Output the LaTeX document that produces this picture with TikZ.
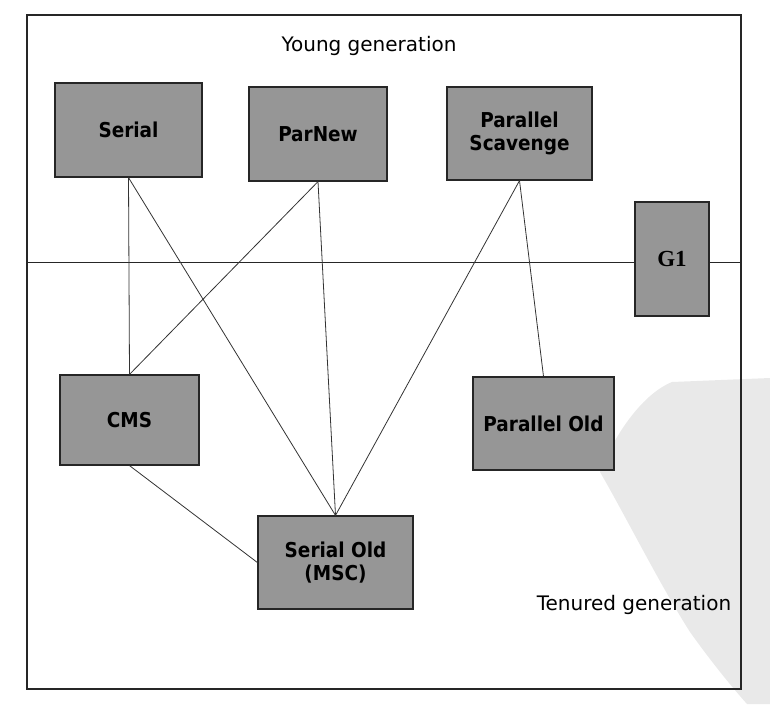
\documentclass[tikz,border=0pt]{standalone}
\usepackage{fontspec}
\setmainfont{DejaVu Sans}
\newfontfamily\condbold{DejaVu Sans Condensed}[BoldFont={DejaVu Sans Condensed Bold}]
\newfontfamily\gserif{Liberation Serif}
\definecolor{boxgray}{RGB}{150,150,150}
\definecolor{wmgray}{RGB}{233,233,233}
\tikzset{
  gcbox/.style={draw=black!85, line width=1.2pt, fill=boxgray, inner sep=0pt,
    align=center, font=\condbold\bfseries\fontsize{20.5}{26}\selectfont},
  conn/.style={draw=black!80, line width=0.8pt},
  region/.style={font=\fontsize{20}{24}\selectfont}
}
\begin{document}
\begin{tikzpicture}[x=1pt,y=-1pt]
\useasboundingbox (0,0) rectangle (770,704);
% scanned watermark
\fill[wmgray] (770,378) -- (672,382) .. controls (640,395) and (612,440) .. (600,472)
  .. controls (625,515) and (660,585) .. (690,632) .. controls (710,660) and (730,685) .. (747,704)
  -- (770,704) -- cycle;
% frame and generation divider
\draw[black!85, line width=1.1pt] (27,15) rectangle (741,689);
\coordinate (divL) at (27,262);
\coordinate (divR) at (741,262);
\draw[black!85, line width=0.9pt] (divL) -- (divR);
% region labels
\node[region] (young) at (369,46) {Young generation};
\node[region] (tenured) at (634,605) {Tenured generation};
% collectors
\node[gcbox, minimum width=147pt, minimum height=94pt] (serial) at (128.5,130) {Serial};
\node[gcbox, minimum width=138pt, minimum height=94pt] (parnew) at (318,134) {ParNew};
\node[gcbox, minimum width=145pt, minimum height=93pt] (ps) at (519.5,133.5) {Parallel\\[-3pt]Scavenge};
\node[gcbox, minimum width=74pt, minimum height=114pt, font=\gserif\bfseries\fontsize{23}{26}\selectfont] (g1) at (672,259) {G1};
\node[gcbox, minimum width=139pt, minimum height=90pt] (cms) at (129.5,420) {CMS};
\node[gcbox, minimum width=141pt, minimum height=93pt] (pold) at (543.5,423.5) {Parallel Old};
\node[gcbox, minimum width=155pt, minimum height=93pt] (sold) at (335.5,562.5) {Serial Old\\[-3pt](MSC)};
% connectors
\draw[conn] (serial.south) -- (cms.north);
\draw[conn] (serial.south) -- (sold.north);
\draw[conn] (parnew.south) -- (cms.north);
\draw[conn] (parnew.south) -- (sold.north);
\draw[conn] (ps.south) -- (sold.north);
\draw[conn] (ps.south) -- (pold.north);
\draw[conn] (cms.south) -- (sold.west);
\end{tikzpicture}
\end{document}
